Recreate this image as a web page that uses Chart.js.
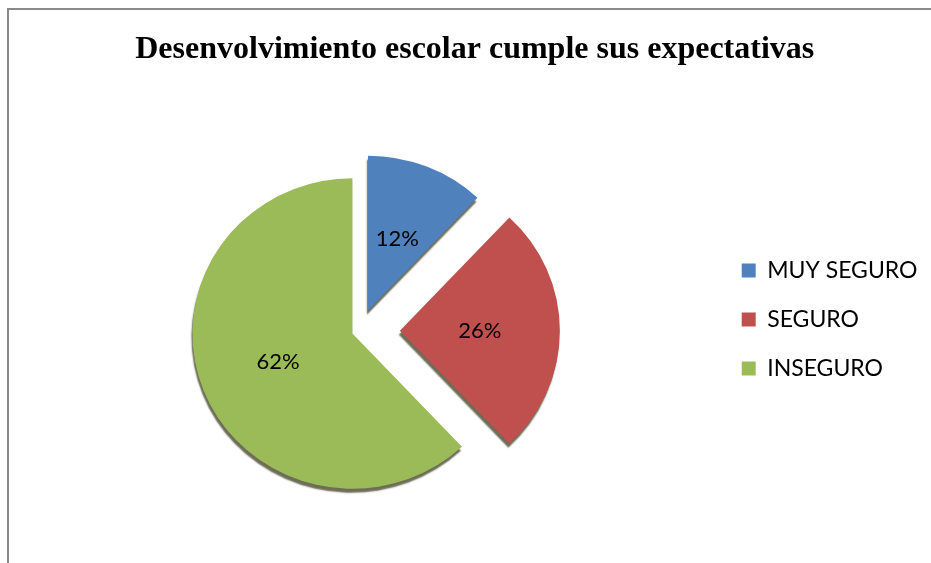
<!DOCTYPE html>
<html>
<head>
<meta charset="utf-8">
<script src="https://cdn.jsdelivr.net/npm/chart.js@4/dist/chart.umd.min.js"></script>
<style>
  html, body { margin: 0; padding: 0; background: #fff; }
  #frame { position: absolute; left: 7px; top: 8px; right: 0; bottom: 0;
           border-left: 2px solid #8a8a8a; border-top: 2px solid #8a8a8a; }
  #wrap { position: absolute; left: 0; top: 0; width: 931px; height: 563px; }
</style>
</head>
<body>
<div id="frame"></div>
<div id="wrap"><canvas id="pieChart" width="931" height="563"></canvas></div>
<script>
// Desenvolvimiento escolar — pie with exploded slices
const categories = ['MUY SEGURO', 'SEGURO', 'INSEGURO'];
const percents = [12, 26, 62];
const sliceColors = ['#4F81BD', '#C0504D', '#9BBB59'];
// how far each slice is pulled out, px
const explode = [22, 40, 8];
const tilt = 0.97; // squash for the 3D look

// fake 3D: squash vertically + dark edge under the slices.
// also pull slices out ourselves (chart.js offset grows big slices' radius)
const shadowPlugin = {
  id: 'shadow',
  beforeDatasetsDraw(chart) {
    const c = chart.ctx;
    const arcs = chart.getDatasetMeta(0).data;
    arcs.forEach((arc, i) => {
      if (arc._pulled) return;
      arc._pulled = true;
      const baseDraw = arc.draw;
      arc.draw = function (ctx) {
        const mid = (this.startAngle + this.endAngle) / 2;
        ctx.save();
        ctx.translate(Math.cos(mid) * explode[i], Math.sin(mid) * explode[i]);
        baseDraw.call(this, ctx);
        ctx.restore();
      };
    });
    const a = arcs[0];
    c.save();
    c.translate(a.x, a.y);
    c.scale(1, tilt);
    c.translate(-a.x, -a.y);
    c.shadowColor = 'rgba(45,45,15,0.7)';
    c.shadowOffsetX = -1;
    c.shadowOffsetY = 4;
    c.shadowBlur = 1.5;
  },
  afterDatasetsDraw(chart) {
    chart.ctx.restore();
  }
};

// percent labels inside each slice
const labelPlugin = {
  id: 'sliceLabels',
  afterDatasetsDraw(chart) {
    const c = chart.ctx;
    const meta = chart.getDatasetMeta(0);
    c.save();
    c.font = '22px Lato';
    c.fillStyle = '#000';
    c.textAlign = 'center';
    c.textBaseline = 'middle';
    meta.data.forEach((arc, i) => {
      const p = arc.getProps(['x', 'y', 'startAngle', 'endAngle', 'outerRadius']);
      const mid = (p.startAngle + p.endAngle) / 2;
      const d = p.outerRadius * 0.5 + explode[i];
      c.fillText(percents[i] + '%', p.x + Math.cos(mid) * d, p.y + Math.sin(mid) * d * tilt);
    });
    c.restore();
  }
};

// nudge the title a bit right, it sits over the whole frame in the original
const titleShift = {
  id: 'titleShift',
  afterLayout(chart) {
    if (chart.titleBlock) {
      chart.titleBlock.left += 9;
      chart.titleBlock.right += 9;
    }
  }
};

new Chart(document.getElementById('pieChart'), {
  type: 'pie',
  data: {
    labels: categories,
    datasets: [{
      data: percents,
      backgroundColor: sliceColors,
      borderWidth: 0,
      hoverOffset: 0
    }]
  },
  options: {
    responsive: false,
    animation: false,
    radius: 160,
    layout: { padding: { left: 4, right: 3.5, top: 0, bottom: 11 } },
    plugins: {
      title: {
        display: true,
        text: 'Desenvolvimiento escolar cumple sus expectativas',
        color: '#000',
        font: { family: '"Liberation Serif", "Times New Roman", serif', size: 32, weight: 'bold' },
        padding: { top: 31, bottom: 40 }
      },
      legend: {
        position: 'right',
        align: 'start',
        // empty title just pushes the items down to the middle
        title: { display: true, text: ' ', font: { size: 12, lineHeight: '233px' }, padding: 0 },
        labels: {
          color: '#000',
          boxWidth: 14,
          boxHeight: 14,
          padding: 26,
          font: { family: 'Lato', size: 23 }
        }
      },
      tooltip: { enabled: false }
    }
  },
  plugins: [shadowPlugin, labelPlugin, titleShift]
});
</script>
</body>
</html>
